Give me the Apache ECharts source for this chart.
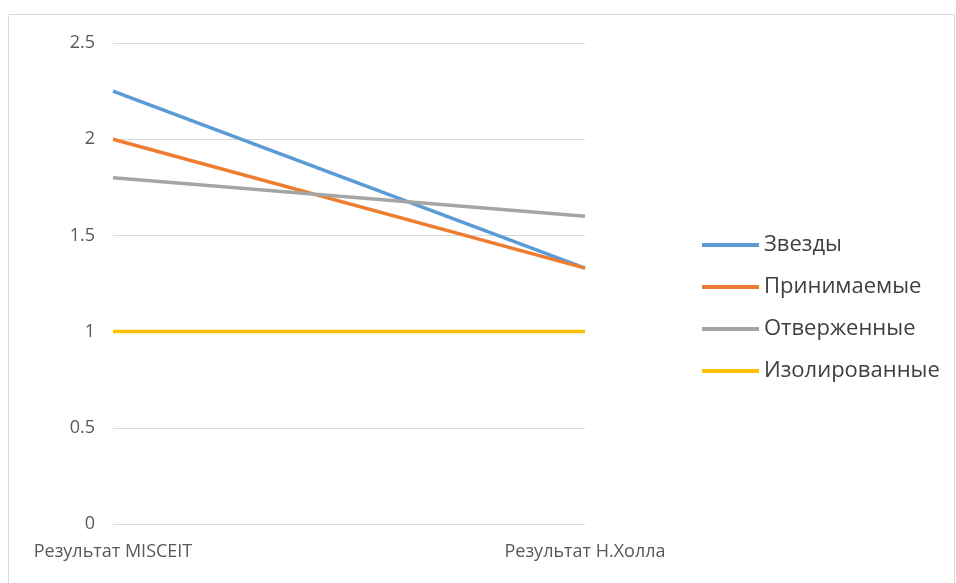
<!DOCTYPE html>
<html><head><meta charset="utf-8">
<script src="https://cdn.jsdelivr.net/npm/echarts@6/dist/echarts.min.js"></script>
<style>html,body{margin:0;padding:0;background:#fff}#c{width:956px;height:583px}</style>
</head><body><div id="c"></div>
<script>
var categories = ['Результат MISCEIT', 'Результат Н.Холла'];
var seriesNames = ['Звезды', 'Принимаемые', 'Отверженные', 'Изолированные'];
var zvezdy = [2.25, 1.33];
var prinimaemye = [2.0, 1.33];
var otverzhennye = [1.8, 1.6];
var izolirovannye = [1.0, 1.0];
var yTicks = [0, 0.5, 1, 1.5, 2, 2.5];
var colors = ['#5B9BD5', '#ED7D31', '#A5A5A5', '#FFC000'];

var dataSets = [zvezdy, prinimaemye, otverzhennye, izolirovannye];
var chart = echarts.init(document.getElementById('c'));
chart.setOption({
  animation: false,
  backgroundColor: '#fff',
  graphic: [{type: 'rect', shape: {x: 8.5, y: 14.5, width: 946, height: 600}, style: {fill: 'none', stroke: '#d9d9d9', lineWidth: 1}, silent: true}],
  grid: {left: 113, right: 371, top: 43, bottom: 59, containLabel: false},
  xAxis: {
    type: 'category', data: categories, boundaryGap: false,
    axisLine: {show: false}, axisTick: {show: false},
    axisLabel: {color: '#595959', fontFamily: 'Open Sans', fontSize: 18, margin: 19, interval: 0}
  },
  yAxis: {
    type: 'value', min: yTicks[0], max: yTicks[yTicks.length - 1], interval: 0.5,
    axisLine: {show: false}, axisTick: {show: false},
    splitLine: {lineStyle: {color: '#d9d9d9', width: 1}},
    axisLabel: {color: '#595959', fontFamily: 'Open Sans', fontSize: 18, margin: 18}
  },
  legend: {
    orient: 'vertical', left: 697, top: 229, itemWidth: 57, itemHeight: 4, itemGap: 20,
    icon: 'rect',
    textStyle: {color: '#404040', fontFamily: 'Open Sans', fontSize: 22, lineHeight: 22},
    data: seriesNames
  },
  series: seriesNames.map(function (n, i) {
    return {
      name: n, type: 'line', data: dataSets[i], symbol: 'none',
      lineStyle: {color: colors[i], width: 3.5}, itemStyle: {color: colors[i]}
    };
  })
});
</script></body></html>
